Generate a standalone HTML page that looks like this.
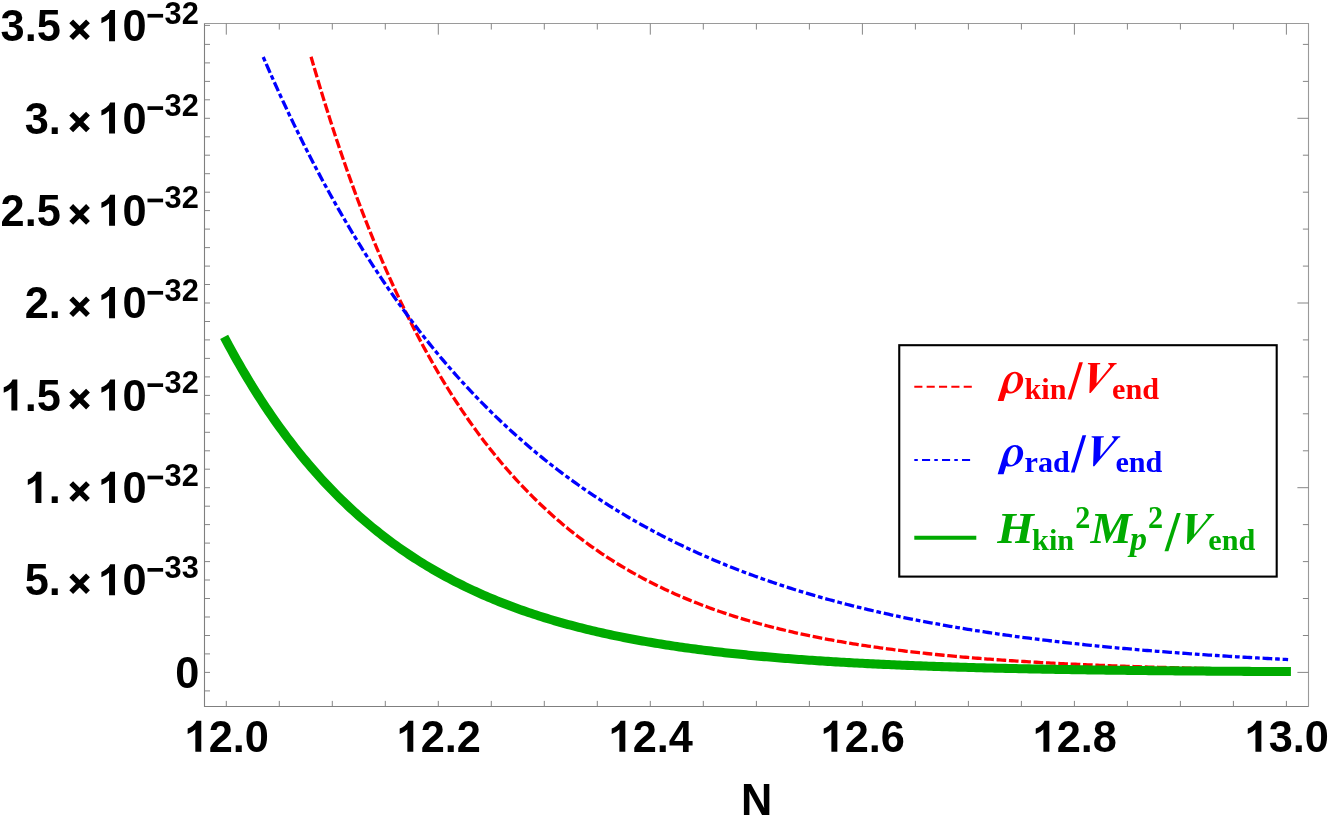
<!DOCTYPE html>
<html><head><meta charset="utf-8"><title>plot</title>
<style>
html,body{margin:0;padding:0;background:#fff;}
body{width:1329px;height:816px;overflow:hidden;font-family:"Liberation Sans",sans-serif;}
svg{display:block;}
.tl text{font-family:"Liberation Sans",sans-serif;font-weight:bold;fill:#000;}
.lg text{font-family:"Liberation Serif",serif;font-weight:bold;}
.it{font-style:italic;}
</style></head><body>
<svg style="will-change:transform" width="1329" height="816" viewBox="0 0 1329 816">
<rect width="1329" height="816" fill="#fff"/>
<g fill="none" stroke-linecap="butt" stroke-linejoin="round">
<path d="M311.05 56.76 L313.49 65.21 L315.94 73.54 L318.38 81.76 L320.82 89.87 L323.26 97.87 L325.70 105.75 L328.15 113.53 L330.59 121.20 L333.03 128.77 L335.47 136.23 L337.92 143.59 L340.36 150.85 L342.80 158.01 L345.24 165.07 L347.68 172.04 L350.13 178.90 L352.57 185.68 L355.01 192.36 L357.45 198.95 L359.89 205.45 L362.34 211.86 L364.78 218.18 L367.22 224.42 L369.66 230.56 L372.11 236.63 L374.55 242.61 L376.99 248.51 L379.43 254.33 L381.87 260.07 L384.32 265.73 L386.76 271.31 L389.20 276.82 L391.64 282.25 L394.08 287.60 L396.53 292.88 L398.97 298.09 L401.41 303.23 L403.85 308.30 L406.29 313.30 L408.74 318.23 L411.18 323.09 L413.62 327.88 L416.06 332.61 L418.51 337.28 L420.95 341.88 L423.39 346.41 L425.83 350.89 L428.27 355.30 L430.72 359.66 L433.16 363.95 L435.60 368.18 L438.04 372.36 L440.48 376.48 L442.93 380.54 L445.37 384.55 L447.81 388.50 L450.25 392.39 L452.70 396.24 L455.14 400.03 L457.58 403.77 L460.02 407.45 L462.46 411.09 L464.91 414.68 L467.35 418.22 L469.79 421.71 L472.23 425.15 L474.67 428.54 L477.12 431.89 L479.56 435.19 L482.00 438.45 L484.44 441.66 L486.88 444.82 L489.33 447.95 L491.77 451.03 L494.21 454.07 L496.65 457.07 L499.10 460.02 L501.54 462.94 L503.98 465.81 L506.42 468.65 L508.86 471.44 L511.31 474.20 L513.75 476.92 L516.19 479.61 L518.63 482.25 L521.07 484.86 L523.52 487.44 L525.96 489.98 L528.40 492.48 L530.84 494.95 L533.29 497.39 L535.73 499.79 L538.17 502.16 L540.61 504.50 L543.05 506.80 L545.50 509.07 L547.94 511.32 L550.38 513.53 L552.82 515.71 L555.26 517.86 L557.71 519.98 L560.15 522.07 L562.59 524.14 L565.03 526.17 L567.47 528.18 L569.92 530.16 L572.36 532.11 L574.80 534.04 L577.24 535.94 L579.69 537.81 L582.13 539.66 L584.57 541.48 L587.01 543.28 L589.45 545.05 L591.90 546.80 L594.34 548.52 L596.78 550.22 L599.22 551.90 L601.66 553.55 L604.11 555.18 L606.55 556.79 L608.99 558.38 L611.43 559.94 L613.88 561.49 L616.32 563.01 L618.76 564.51 L621.20 565.99 L623.64 567.45 L626.09 568.89 L628.53 570.32 L630.97 571.72 L633.41 573.10 L635.85 574.46 L638.30 575.81 L640.74 577.13 L643.18 578.44 L645.62 579.73 L648.06 581.00 L650.51 582.26 L652.95 583.49 L655.39 584.71 L657.83 585.92 L660.28 587.10 L662.72 588.28 L665.16 589.43 L667.60 590.57 L670.04 591.69 L672.49 592.80 L674.93 593.89 L677.37 594.97 L679.81 596.03 L682.25 597.08 L684.70 598.12 L687.14 599.14 L689.58 600.14 L692.02 601.13 L694.47 602.11 L696.91 603.08 L699.35 604.03 L701.79 604.97 L704.23 605.89 L706.68 606.81 L709.12 607.71 L711.56 608.59 L714.00 609.47 L716.44 610.33 L718.89 611.19 L721.33 612.03 L723.77 612.85 L726.21 613.67 L728.65 614.48 L731.10 615.27 L733.54 616.06 L735.98 616.83 L738.42 617.59 L740.87 618.35 L743.31 619.09 L745.75 619.82 L748.19 620.54 L750.63 621.25 L753.08 621.96 L755.52 622.65 L757.96 623.33 L760.40 624.00 L762.84 624.67 L765.29 625.32 L767.73 625.97 L770.17 626.61 L772.61 627.24 L775.06 627.86 L777.50 628.47 L779.94 629.07 L782.38 629.67 L784.82 630.25 L787.27 630.83 L789.71 631.40 L792.15 631.96 L794.59 632.52 L797.03 633.07 L799.48 633.61 L801.92 634.14 L804.36 634.66 L806.80 635.18 L809.24 635.69 L811.69 636.20 L814.13 636.69 L816.57 637.18 L819.01 637.67 L821.46 638.14 L823.90 638.61 L826.34 639.08 L828.78 639.54 L831.22 639.99 L833.67 640.43 L836.11 640.87 L838.55 641.30 L840.99 641.73 L843.43 642.15 L845.88 642.57 L848.32 642.98 L850.76 643.38 L853.20 643.78 L855.64 644.17 L858.09 644.56 L860.53 644.94 L862.97 645.32 L865.41 645.69 L867.86 646.06 L870.30 646.42 L872.74 646.77 L875.18 647.13 L877.62 647.47 L880.07 647.82 L882.51 648.15 L884.95 648.49 L887.39 648.81 L889.83 649.14 L892.28 649.46 L894.72 649.77 L897.16 650.08 L899.60 650.39 L902.05 650.69 L904.49 650.99 L906.93 651.28 L909.37 651.57 L911.81 651.86 L914.26 652.14 L916.70 652.42 L919.14 652.69 L921.58 652.96 L924.02 653.23 L926.47 653.49 L928.91 653.75 L931.35 654.01 L933.79 654.26 L936.23 654.51 L938.68 654.76 L941.12 655.00 L943.56 655.24 L946.00 655.47 L948.45 655.70 L950.89 655.93 L953.33 656.16 L955.77 656.38 L958.21 656.60 L960.66 656.82 L963.10 657.03 L965.54 657.24 L967.98 657.45 L970.42 657.66 L972.87 657.86 L975.31 658.06 L977.75 658.26 L980.19 658.45 L982.64 658.64 L985.08 658.83 L987.52 659.02 L989.96 659.20 L992.40 659.38 L994.85 659.56 L997.29 659.74 L999.73 659.91 L1002.17 660.08 L1004.61 660.25 L1007.06 660.42 L1009.50 660.58 L1011.94 660.74 L1014.38 660.90 L1016.82 661.06 L1019.27 661.22 L1021.71 661.37 L1024.15 661.52 L1026.59 661.67 L1029.04 661.82 L1031.48 661.96 L1033.92 662.11 L1036.36 662.25 L1038.80 662.39 L1041.25 662.53 L1043.69 662.66 L1046.13 662.80 L1048.57 662.93 L1051.01 663.06 L1053.46 663.19 L1055.90 663.31 L1058.34 663.44 L1060.78 663.56 L1063.23 663.68 L1065.67 663.80 L1068.11 663.92 L1070.55 664.04 L1072.99 664.15 L1075.44 664.26 L1077.88 664.38 L1080.32 664.49 L1082.76 664.59 L1085.20 664.70 L1087.65 664.81 L1090.09 664.91 L1092.53 665.01 L1094.97 665.12 L1097.41 665.22 L1099.86 665.31 L1102.30 665.41 L1104.74 665.51 L1107.18 665.60 L1109.63 665.69 L1112.07 665.79 L1114.51 665.88 L1116.95 665.97 L1119.39 666.06 L1121.84 666.14 L1124.28 666.23 L1126.72 666.31 L1129.16 666.40 L1131.60 666.48 L1134.05 666.56 L1136.49 666.64 L1138.93 666.72 L1141.37 666.80 L1143.82 666.87 L1146.26 666.95 L1148.70 667.03 L1151.14 667.10 L1153.58 667.17 L1156.03 667.24 L1158.47 667.31 L1160.91 667.38 L1163.35 667.45 L1165.79 667.52 L1168.24 667.59 L1170.68 667.65 L1173.12 667.72 L1175.56 667.78 L1178.00 667.85 L1180.45 667.91 L1182.89 667.97 L1185.33 668.03 L1187.77 668.09 L1190.22 668.15 L1192.66 668.21 L1195.10 668.27 L1197.54 668.32 L1199.98 668.38 L1202.43 668.43 L1204.87 668.49 L1207.31 668.54 L1209.75 668.60 L1212.19 668.65 L1214.64 668.70 L1217.08 668.75 L1219.52 668.80 L1221.96 668.85 L1224.41 668.90 L1226.85 668.95 L1229.29 668.99 L1231.73 669.04 L1234.17 669.09 L1236.62 669.13 L1239.06 669.18 L1241.50 669.22 L1243.94 669.26 L1246.38 669.31 L1248.83 669.35 L1251.27 669.39 L1253.71 669.43 L1256.15 669.47 L1258.59 669.51 L1261.04 669.55 L1263.48 669.59 L1265.92 669.63 L1268.36 669.67 L1270.81 669.71 L1273.25 669.74 L1275.69 669.78 L1278.13 669.82 L1280.57 669.85 L1283.02 669.89 L1285.46 669.92 L1287.90 669.96" stroke="#ff0000" stroke-width="3.3" stroke-dasharray="9.68 2.685" stroke-dashoffset="0.6"/>
<path d="M263.22 56.98 L265.78 62.90 L268.34 68.76 L270.90 74.57 L273.46 80.32 L276.03 86.02 L278.59 91.66 L281.15 97.25 L283.71 102.78 L286.28 108.26 L288.84 113.69 L291.40 119.07 L293.96 124.39 L296.52 129.66 L299.09 134.89 L301.65 140.06 L304.21 145.18 L306.77 150.25 L309.34 155.27 L311.90 160.25 L314.46 165.18 L317.02 170.06 L319.58 174.89 L322.15 179.68 L324.71 184.42 L327.27 189.11 L329.83 193.76 L332.40 198.37 L334.96 202.93 L337.52 207.45 L340.08 211.92 L342.64 216.35 L345.21 220.74 L347.77 225.08 L350.33 229.39 L352.89 233.65 L355.46 237.87 L358.02 242.05 L360.58 246.19 L363.14 250.29 L365.70 254.35 L368.27 258.38 L370.83 262.36 L373.39 266.30 L375.95 270.21 L378.52 274.08 L381.08 277.91 L383.64 281.71 L386.20 285.47 L388.76 289.19 L391.33 292.88 L393.89 296.53 L396.45 300.14 L399.01 303.73 L401.58 307.27 L404.14 310.79 L406.70 314.27 L409.26 317.71 L411.82 321.12 L414.39 324.50 L416.95 327.85 L419.51 331.17 L422.07 334.45 L424.64 337.70 L427.20 340.92 L429.76 344.11 L432.32 347.27 L434.88 350.40 L437.45 353.49 L440.01 356.56 L442.57 359.60 L445.13 362.61 L447.70 365.59 L450.26 368.54 L452.82 371.47 L455.38 374.36 L457.94 377.23 L460.51 380.07 L463.07 382.88 L465.63 385.67 L468.19 388.43 L470.75 391.16 L473.32 393.86 L475.88 396.54 L478.44 399.20 L481.00 401.83 L483.57 404.43 L486.13 407.01 L488.69 409.56 L491.25 412.09 L493.81 414.60 L496.38 417.08 L498.94 419.53 L501.50 421.96 L504.06 424.37 L506.63 426.76 L509.19 429.12 L511.75 431.46 L514.31 433.78 L516.87 436.08 L519.44 438.35 L522.00 440.60 L524.56 442.83 L527.12 445.04 L529.69 447.23 L532.25 449.40 L534.81 451.54 L537.37 453.67 L539.93 455.77 L542.50 457.86 L545.06 459.92 L547.62 461.96 L550.18 463.99 L552.75 465.99 L555.31 467.98 L557.87 469.95 L560.43 471.89 L562.99 473.82 L565.56 475.73 L568.12 477.63 L570.68 479.50 L573.24 481.36 L575.81 483.19 L578.37 485.02 L580.93 486.82 L583.49 488.60 L586.05 490.37 L588.62 492.12 L591.18 493.86 L593.74 495.58 L596.30 497.28 L598.87 498.96 L601.43 500.63 L603.99 502.28 L606.55 503.92 L609.11 505.54 L611.68 507.15 L614.24 508.74 L616.80 510.31 L619.36 511.87 L621.93 513.41 L624.49 514.94 L627.05 516.46 L629.61 517.96 L632.17 519.45 L634.74 520.92 L637.30 522.37 L639.86 523.82 L642.42 525.25 L644.99 526.66 L647.55 528.07 L650.11 529.45 L652.67 530.83 L655.23 532.19 L657.80 533.54 L660.36 534.88 L662.92 536.20 L665.48 537.51 L668.05 538.81 L670.61 540.09 L673.17 541.37 L675.73 542.63 L678.29 543.88 L680.86 545.11 L683.42 546.34 L685.98 547.55 L688.54 548.75 L691.11 549.94 L693.67 551.12 L696.23 552.29 L698.79 553.44 L701.35 554.59 L703.92 555.72 L706.48 556.84 L709.04 557.95 L711.60 559.05 L714.16 560.15 L716.73 561.23 L719.29 562.29 L721.85 563.35 L724.41 564.40 L726.98 565.44 L729.54 566.47 L732.10 567.49 L734.66 568.50 L737.22 569.50 L739.79 570.49 L742.35 571.47 L744.91 572.44 L747.47 573.40 L750.04 574.36 L752.60 575.30 L755.16 576.23 L757.72 577.16 L760.28 578.07 L762.85 578.98 L765.41 579.88 L767.97 580.77 L770.53 581.65 L773.10 582.53 L775.66 583.39 L778.22 584.25 L780.78 585.09 L783.34 585.93 L785.91 586.77 L788.47 587.59 L791.03 588.41 L793.59 589.21 L796.16 590.02 L798.72 590.81 L801.28 591.59 L803.84 592.37 L806.40 593.14 L808.97 593.90 L811.53 594.66 L814.09 595.41 L816.65 596.15 L819.22 596.88 L821.78 597.61 L824.34 598.33 L826.90 599.04 L829.46 599.75 L832.03 600.44 L834.59 601.14 L837.15 601.82 L839.71 602.50 L842.28 603.17 L844.84 603.84 L847.40 604.50 L849.96 605.15 L852.52 605.80 L855.09 606.44 L857.65 607.08 L860.21 607.70 L862.77 608.33 L865.34 608.94 L867.90 609.55 L870.46 610.16 L873.02 610.76 L875.58 611.35 L878.15 611.94 L880.71 612.52 L883.27 613.09 L885.83 613.67 L888.40 614.23 L890.96 614.79 L893.52 615.34 L896.08 615.89 L898.64 616.44 L901.21 616.98 L903.77 617.51 L906.33 618.04 L908.89 618.56 L911.46 619.08 L914.02 619.59 L916.58 620.10 L919.14 620.60 L921.70 621.10 L924.27 621.59 L926.83 622.08 L929.39 622.57 L931.95 623.05 L934.52 623.52 L937.08 623.99 L939.64 624.46 L942.20 624.92 L944.76 625.38 L947.33 625.83 L949.89 626.28 L952.45 626.72 L955.01 627.16 L957.57 627.59 L960.14 628.03 L962.70 628.45 L965.26 628.88 L967.82 629.29 L970.39 629.71 L972.95 630.12 L975.51 630.53 L978.07 630.93 L980.63 631.33 L983.20 631.72 L985.76 632.11 L988.32 632.50 L990.88 632.89 L993.45 633.27 L996.01 633.64 L998.57 634.02 L1001.13 634.39 L1003.69 634.75 L1006.26 635.11 L1008.82 635.47 L1011.38 635.83 L1013.94 636.18 L1016.51 636.53 L1019.07 636.87 L1021.63 637.21 L1024.19 637.55 L1026.75 637.89 L1029.32 638.22 L1031.88 638.55 L1034.44 638.87 L1037.00 639.20 L1039.57 639.52 L1042.13 639.83 L1044.69 640.15 L1047.25 640.46 L1049.81 640.76 L1052.38 641.07 L1054.94 641.37 L1057.50 641.67 L1060.06 641.96 L1062.63 642.26 L1065.19 642.55 L1067.75 642.83 L1070.31 643.12 L1072.87 643.40 L1075.44 643.68 L1078.00 643.96 L1080.56 644.23 L1083.12 644.50 L1085.69 644.77 L1088.25 645.03 L1090.81 645.30 L1093.37 645.56 L1095.93 645.82 L1098.50 646.07 L1101.06 646.33 L1103.62 646.58 L1106.18 646.83 L1108.75 647.07 L1111.31 647.32 L1113.87 647.56 L1116.43 647.80 L1118.99 648.03 L1121.56 648.27 L1124.12 648.50 L1126.68 648.73 L1129.24 648.96 L1131.81 649.18 L1134.37 649.41 L1136.93 649.63 L1139.49 649.85 L1142.05 650.06 L1144.62 650.28 L1147.18 650.49 L1149.74 650.70 L1152.30 650.91 L1154.87 651.12 L1157.43 651.32 L1159.99 651.52 L1162.55 651.73 L1165.11 651.92 L1167.68 652.12 L1170.24 652.32 L1172.80 652.51 L1175.36 652.70 L1177.93 652.89 L1180.49 653.08 L1183.05 653.26 L1185.61 653.45 L1188.17 653.63 L1190.74 653.81 L1193.30 653.99 L1195.86 654.17 L1198.42 654.34 L1200.98 654.52 L1203.55 654.69 L1206.11 654.86 L1208.67 655.03 L1211.23 655.19 L1213.80 655.36 L1216.36 655.52 L1218.92 655.69 L1221.48 655.85 L1224.04 656.01 L1226.61 656.16 L1229.17 656.32 L1231.73 656.48 L1234.29 656.63 L1236.86 656.78 L1239.42 656.93 L1241.98 657.08 L1244.54 657.23 L1247.10 657.37 L1249.67 657.52 L1252.23 657.66 L1254.79 657.80 L1257.35 657.94 L1259.92 658.08 L1262.48 658.22 L1265.04 658.36 L1267.60 658.49 L1270.16 658.62 L1272.73 658.76 L1275.29 658.89 L1277.85 659.02 L1280.41 659.15 L1282.98 659.28 L1285.54 659.40 L1288.10 659.53" stroke="#0000ff" stroke-width="3.3" stroke-dasharray="4.7 2.85 9.7 2.85" stroke-dashoffset="0"/>
<path d="M226.30 340.86 L228.95 345.80 L231.60 350.66 L234.25 355.45 L236.90 360.17 L239.55 364.82 L242.20 369.40 L244.85 373.91 L247.50 378.35 L250.15 382.73 L252.80 387.04 L255.45 391.29 L258.10 395.48 L260.75 399.60 L263.40 403.66 L266.05 407.66 L268.70 411.60 L271.35 415.49 L274.00 419.31 L276.65 423.08 L279.31 426.79 L281.96 430.45 L284.61 434.05 L287.26 437.60 L289.91 441.09 L292.56 444.54 L295.21 447.93 L297.86 451.27 L300.51 454.56 L303.16 457.81 L305.81 461.00 L308.46 464.15 L311.11 467.25 L313.76 470.30 L316.41 473.31 L319.06 476.28 L321.71 479.20 L324.36 482.07 L327.01 484.91 L329.66 487.70 L332.31 490.45 L334.96 493.16 L337.61 495.83 L340.26 498.46 L342.91 501.04 L345.56 503.60 L348.21 506.11 L350.86 508.58 L353.51 511.02 L356.16 513.43 L358.81 515.79 L361.46 518.12 L364.11 520.42 L366.76 522.68 L369.41 524.91 L372.06 527.11 L374.71 529.27 L377.36 531.40 L380.01 533.50 L382.66 535.57 L385.32 537.61 L387.97 539.61 L390.62 541.59 L393.27 543.54 L395.92 545.46 L398.57 547.35 L401.22 549.21 L403.87 551.04 L406.52 552.85 L409.17 554.63 L411.82 556.38 L414.47 558.11 L417.12 559.81 L419.77 561.49 L422.42 563.14 L425.07 564.77 L427.72 566.37 L430.37 567.95 L433.02 569.50 L435.67 571.03 L438.32 572.54 L440.97 574.03 L443.62 575.49 L446.27 576.94 L448.92 578.36 L451.57 579.76 L454.22 581.14 L456.87 582.50 L459.52 583.83 L462.17 585.15 L464.82 586.45 L467.47 587.73 L470.12 588.99 L472.77 590.23 L475.42 591.46 L478.07 592.66 L480.72 593.85 L483.37 595.02 L486.02 596.17 L488.67 597.31 L491.33 598.42 L493.98 599.53 L496.63 600.61 L499.28 601.68 L501.93 602.73 L504.58 603.77 L507.23 604.79 L509.88 605.80 L512.53 606.79 L515.18 607.77 L517.83 608.73 L520.48 609.68 L523.13 610.61 L525.78 611.53 L528.43 612.44 L531.08 613.33 L533.73 614.21 L536.38 615.07 L539.03 615.93 L541.68 616.77 L544.33 617.60 L546.98 618.41 L549.63 619.22 L552.28 620.01 L554.93 620.79 L557.58 621.56 L560.23 622.31 L562.88 623.06 L565.53 623.79 L568.18 624.52 L570.83 625.23 L573.48 625.93 L576.13 626.63 L578.78 627.31 L581.43 627.98 L584.08 628.64 L586.73 629.29 L589.38 629.93 L592.03 630.56 L594.68 631.19 L597.33 631.80 L599.99 632.41 L602.64 633.00 L605.29 633.59 L607.94 634.17 L610.59 634.73 L613.24 635.30 L615.89 635.85 L618.54 636.39 L621.19 636.93 L623.84 637.46 L626.49 637.98 L629.14 638.49 L631.79 638.99 L634.44 639.49 L637.09 639.98 L639.74 640.46 L642.39 640.94 L645.04 641.41 L647.69 641.87 L650.34 642.32 L652.99 642.77 L655.64 643.21 L658.29 643.65 L660.94 644.08 L663.59 644.50 L666.24 644.91 L668.89 645.32 L671.54 645.72 L674.19 646.12 L676.84 646.51 L679.49 646.90 L682.14 647.28 L684.79 647.65 L687.44 648.02 L690.09 648.38 L692.74 648.74 L695.39 649.09 L698.04 649.44 L700.69 649.78 L703.34 650.12 L706.00 650.45 L708.65 650.78 L711.30 651.10 L713.95 651.42 L716.60 651.73 L719.25 652.04 L721.90 652.34 L724.55 652.64 L727.20 652.93 L729.85 653.22 L732.50 653.51 L735.15 653.79 L737.80 654.07 L740.45 654.34 L743.10 654.61 L745.75 654.87 L748.40 655.13 L751.05 655.39 L753.70 655.64 L756.35 655.89 L759.00 656.14 L761.65 656.38 L764.30 656.62 L766.95 656.86 L769.60 657.09 L772.25 657.31 L774.90 657.54 L777.55 657.76 L780.20 657.98 L782.85 658.19 L785.50 658.40 L788.15 658.61 L790.80 658.82 L793.45 659.02 L796.10 659.22 L798.75 659.42 L801.40 659.61 L804.05 659.80 L806.70 659.99 L809.36 660.17 L812.01 660.35 L814.66 660.53 L817.31 660.71 L819.96 660.88 L822.61 661.06 L825.26 661.22 L827.91 661.39 L830.56 661.55 L833.21 661.72 L835.86 661.88 L838.51 662.03 L841.16 662.19 L843.81 662.34 L846.46 662.49 L849.11 662.64 L851.76 662.78 L854.41 662.92 L857.06 663.07 L859.71 663.20 L862.36 663.34 L865.01 663.48 L867.66 663.61 L870.31 663.74 L872.96 663.87 L875.61 664.00 L878.26 664.12 L880.91 664.24 L883.56 664.37 L886.21 664.49 L888.86 664.60 L891.51 664.72 L894.16 664.83 L896.81 664.95 L899.46 665.06 L902.11 665.17 L904.76 665.27 L907.41 665.38 L910.06 665.48 L912.71 665.59 L915.37 665.69 L918.02 665.79 L920.67 665.89 L923.32 665.98 L925.97 666.08 L928.62 666.17 L931.27 666.27 L933.92 666.36 L936.57 666.45 L939.22 666.54 L941.87 666.62 L944.52 666.71 L947.17 666.79 L949.82 666.88 L952.47 666.96 L955.12 667.04 L957.77 667.12 L960.42 667.20 L963.07 667.28 L965.72 667.35 L968.37 667.43 L971.02 667.50 L973.67 667.58 L976.32 667.65 L978.97 667.72 L981.62 667.79 L984.27 667.86 L986.92 667.92 L989.57 667.99 L992.22 668.06 L994.87 668.12 L997.52 668.18 L1000.17 668.25 L1002.82 668.31 L1005.47 668.37 L1008.12 668.43 L1010.77 668.49 L1013.42 668.55 L1016.07 668.60 L1018.72 668.66 L1021.38 668.72 L1024.03 668.77 L1026.68 668.83 L1029.33 668.88 L1031.98 668.93 L1034.63 668.98 L1037.28 669.03 L1039.93 669.08 L1042.58 669.13 L1045.23 669.18 L1047.88 669.23 L1050.53 669.28 L1053.18 669.32 L1055.83 669.37 L1058.48 669.41 L1061.13 669.46 L1063.78 669.50 L1066.43 669.55 L1069.08 669.59 L1071.73 669.63 L1074.38 669.67 L1077.03 669.71 L1079.68 669.75 L1082.33 669.79 L1084.98 669.83 L1087.63 669.87 L1090.28 669.91 L1092.93 669.94 L1095.58 669.98 L1098.23 670.02 L1100.88 670.05 L1103.53 670.09 L1106.18 670.12 L1108.83 670.15 L1111.48 670.19 L1114.13 670.22 L1116.78 670.25 L1119.43 670.29 L1122.08 670.32 L1124.73 670.35 L1127.38 670.38 L1130.04 670.41 L1132.69 670.44 L1135.34 670.47 L1137.99 670.50 L1140.64 670.52 L1143.29 670.55 L1145.94 670.58 L1148.59 670.61 L1151.24 670.63 L1153.89 670.66 L1156.54 670.69 L1159.19 670.71 L1161.84 670.74 L1164.49 670.76 L1167.14 670.79 L1169.79 670.81 L1172.44 670.83 L1175.09 670.86 L1177.74 670.88 L1180.39 670.90 L1183.04 670.92 L1185.69 670.95 L1188.34 670.97 L1190.99 670.99 L1193.64 671.01 L1196.29 671.03 L1198.94 671.05 L1201.59 671.07 L1204.24 671.09 L1206.89 671.11 L1209.54 671.13 L1212.19 671.15 L1214.84 671.17 L1217.49 671.19 L1220.14 671.20 L1222.79 671.22 L1225.44 671.24 L1228.09 671.26 L1230.74 671.27 L1233.39 671.29 L1236.05 671.31 L1238.70 671.32 L1241.35 671.34 L1244.00 671.36 L1246.65 671.37 L1249.30 671.39 L1251.95 671.40 L1254.60 671.42 L1257.25 671.43 L1259.90 671.45 L1262.55 671.46 L1265.20 671.47 L1267.85 671.49 L1270.50 671.50 L1273.15 671.51 L1275.80 671.53 L1278.45 671.54 L1281.10 671.55 L1283.75 671.57 L1286.40 671.58" stroke="#00aa00" stroke-width="9.05" stroke-linecap="square"/>
</g>
<g stroke="#7f7f7f" stroke-width="1.1" fill="none">
<line x1="204.5" y1="23.05" x2="204.5" y2="707.0" stroke="#7f7f7f"/><line x1="204.0" y1="706.5" x2="1309.0" y2="706.5" stroke="#7f7f7f"/><line x1="204.0" y1="23.55" x2="1309.0" y2="23.55" stroke="#9a9a9a"/><line x1="1308.5" y1="23.05" x2="1308.5" y2="707.0" stroke="#9a9a9a"/>
</g>
<g stroke="#7f7f7f" stroke-width="0.95" fill="none">
<line x1="226.3" y1="706.5" x2="226.3" y2="700.9"/>
<line x1="226.3" y1="23.55" x2="226.3" y2="34.65"/>
<line x1="279.3" y1="706.5" x2="279.3" y2="700.9"/>
<line x1="279.3" y1="23.55" x2="279.3" y2="29.55"/>
<line x1="332.3" y1="706.5" x2="332.3" y2="700.9"/>
<line x1="332.3" y1="23.55" x2="332.3" y2="29.55"/>
<line x1="385.3" y1="706.5" x2="385.3" y2="700.9"/>
<line x1="385.3" y1="23.55" x2="385.3" y2="29.55"/>
<line x1="438.3" y1="706.5" x2="438.3" y2="700.9"/>
<line x1="438.3" y1="23.55" x2="438.3" y2="34.65"/>
<line x1="491.3" y1="706.5" x2="491.3" y2="700.9"/>
<line x1="491.3" y1="23.55" x2="491.3" y2="29.55"/>
<line x1="544.3" y1="706.5" x2="544.3" y2="700.9"/>
<line x1="544.3" y1="23.55" x2="544.3" y2="29.55"/>
<line x1="597.3" y1="706.5" x2="597.3" y2="700.9"/>
<line x1="597.3" y1="23.55" x2="597.3" y2="29.55"/>
<line x1="650.3" y1="706.5" x2="650.3" y2="700.9"/>
<line x1="650.3" y1="23.55" x2="650.3" y2="34.65"/>
<line x1="703.3" y1="706.5" x2="703.3" y2="700.9"/>
<line x1="703.3" y1="23.55" x2="703.3" y2="29.55"/>
<line x1="756.4" y1="706.5" x2="756.4" y2="700.9"/>
<line x1="756.4" y1="23.55" x2="756.4" y2="29.55"/>
<line x1="809.4" y1="706.5" x2="809.4" y2="700.9"/>
<line x1="809.4" y1="23.55" x2="809.4" y2="29.55"/>
<line x1="862.4" y1="706.5" x2="862.4" y2="700.9"/>
<line x1="862.4" y1="23.55" x2="862.4" y2="34.65"/>
<line x1="915.4" y1="706.5" x2="915.4" y2="700.9"/>
<line x1="915.4" y1="23.55" x2="915.4" y2="29.55"/>
<line x1="968.4" y1="706.5" x2="968.4" y2="700.9"/>
<line x1="968.4" y1="23.55" x2="968.4" y2="29.55"/>
<line x1="1021.4" y1="706.5" x2="1021.4" y2="700.9"/>
<line x1="1021.4" y1="23.55" x2="1021.4" y2="29.55"/>
<line x1="1074.4" y1="706.5" x2="1074.4" y2="700.9"/>
<line x1="1074.4" y1="23.55" x2="1074.4" y2="34.65"/>
<line x1="1127.4" y1="706.5" x2="1127.4" y2="700.9"/>
<line x1="1127.4" y1="23.55" x2="1127.4" y2="29.55"/>
<line x1="1180.4" y1="706.5" x2="1180.4" y2="700.9"/>
<line x1="1180.4" y1="23.55" x2="1180.4" y2="29.55"/>
<line x1="1233.4" y1="706.5" x2="1233.4" y2="700.9"/>
<line x1="1233.4" y1="23.55" x2="1233.4" y2="29.55"/>
<line x1="1286.4" y1="706.5" x2="1286.4" y2="700.9"/>
<line x1="1286.4" y1="23.55" x2="1286.4" y2="34.65"/>
<line x1="204.5" y1="690.9" x2="210.0" y2="690.9"/>
<line x1="204.5" y1="672.4" x2="210.0" y2="672.4"/>
<line x1="1308.5" y1="672.4" x2="1297.4" y2="672.4"/>
<line x1="204.5" y1="653.9" x2="210.0" y2="653.9"/>
<line x1="204.5" y1="635.5" x2="210.0" y2="635.5"/>
<line x1="1308.5" y1="635.5" x2="1302.9" y2="635.5"/>
<line x1="204.5" y1="617.0" x2="210.0" y2="617.0"/>
<line x1="204.5" y1="598.5" x2="210.0" y2="598.5"/>
<line x1="1308.5" y1="598.5" x2="1302.9" y2="598.5"/>
<line x1="204.5" y1="580.0" x2="210.0" y2="580.0"/>
<line x1="204.5" y1="561.6" x2="210.0" y2="561.6"/>
<line x1="1308.5" y1="561.6" x2="1302.9" y2="561.6"/>
<line x1="204.5" y1="543.1" x2="210.0" y2="543.1"/>
<line x1="204.5" y1="524.6" x2="210.0" y2="524.6"/>
<line x1="1308.5" y1="524.6" x2="1302.9" y2="524.6"/>
<line x1="204.5" y1="506.2" x2="210.0" y2="506.2"/>
<line x1="204.5" y1="487.7" x2="210.0" y2="487.7"/>
<line x1="1308.5" y1="487.7" x2="1297.4" y2="487.7"/>
<line x1="204.5" y1="469.2" x2="210.0" y2="469.2"/>
<line x1="204.5" y1="450.8" x2="210.0" y2="450.8"/>
<line x1="1308.5" y1="450.8" x2="1302.9" y2="450.8"/>
<line x1="204.5" y1="432.3" x2="210.0" y2="432.3"/>
<line x1="204.5" y1="413.8" x2="210.0" y2="413.8"/>
<line x1="1308.5" y1="413.8" x2="1302.9" y2="413.8"/>
<line x1="204.5" y1="395.4" x2="210.0" y2="395.4"/>
<line x1="204.5" y1="376.9" x2="210.0" y2="376.9"/>
<line x1="1308.5" y1="376.9" x2="1302.9" y2="376.9"/>
<line x1="204.5" y1="358.4" x2="210.0" y2="358.4"/>
<line x1="204.5" y1="339.9" x2="210.0" y2="339.9"/>
<line x1="1308.5" y1="339.9" x2="1302.9" y2="339.9"/>
<line x1="204.5" y1="321.5" x2="210.0" y2="321.5"/>
<line x1="204.5" y1="303.0" x2="210.0" y2="303.0"/>
<line x1="1308.5" y1="303.0" x2="1297.4" y2="303.0"/>
<line x1="204.5" y1="284.5" x2="210.0" y2="284.5"/>
<line x1="204.5" y1="266.1" x2="210.0" y2="266.1"/>
<line x1="1308.5" y1="266.1" x2="1302.9" y2="266.1"/>
<line x1="204.5" y1="247.6" x2="210.0" y2="247.6"/>
<line x1="204.5" y1="229.1" x2="210.0" y2="229.1"/>
<line x1="1308.5" y1="229.1" x2="1302.9" y2="229.1"/>
<line x1="204.5" y1="210.6" x2="210.0" y2="210.6"/>
<line x1="204.5" y1="192.2" x2="210.0" y2="192.2"/>
<line x1="1308.5" y1="192.2" x2="1302.9" y2="192.2"/>
<line x1="204.5" y1="173.7" x2="210.0" y2="173.7"/>
<line x1="204.5" y1="155.2" x2="210.0" y2="155.2"/>
<line x1="1308.5" y1="155.2" x2="1302.9" y2="155.2"/>
<line x1="204.5" y1="136.8" x2="210.0" y2="136.8"/>
<line x1="204.5" y1="118.3" x2="210.0" y2="118.3"/>
<line x1="1308.5" y1="118.3" x2="1297.4" y2="118.3"/>
<line x1="204.5" y1="99.8" x2="210.0" y2="99.8"/>
<line x1="204.5" y1="81.4" x2="210.0" y2="81.4"/>
<line x1="1308.5" y1="81.4" x2="1302.9" y2="81.4"/>
<line x1="204.5" y1="62.9" x2="210.0" y2="62.9"/>
<line x1="204.5" y1="44.4" x2="210.0" y2="44.4"/>
<line x1="1308.5" y1="44.4" x2="1302.9" y2="44.4"/>
<line x1="204.5" y1="25.4" x2="210.0" y2="25.4"/>
</g>
<g class="tl">
<path transform="translate(184.26 751.80) scale(0.02114 -0.02114)" d="M805 0H524V1059Q370 915 161 846V1101Q271 1137 400 1237.5T577 1472H805Z" fill="#000"/><text transform="translate(208.64 751.80) scale(1.0 1.04)" font-size="43.3">2.0</text>
<path transform="translate(396.28 751.80) scale(0.02114 -0.02114)" d="M805 0H524V1059Q370 915 161 846V1101Q271 1137 400 1237.5T577 1472H805Z" fill="#000"/><text transform="translate(420.66 751.80) scale(1.0 1.04)" font-size="43.3">2.2</text>
<path transform="translate(608.30 751.80) scale(0.02114 -0.02114)" d="M805 0H524V1059Q370 915 161 846V1101Q271 1137 400 1237.5T577 1472H805Z" fill="#000"/><text transform="translate(632.68 751.80) scale(1.0 1.04)" font-size="43.3">2.4</text>
<path transform="translate(820.32 751.80) scale(0.02114 -0.02114)" d="M805 0H524V1059Q370 915 161 846V1101Q271 1137 400 1237.5T577 1472H805Z" fill="#000"/><text transform="translate(844.70 751.80) scale(1.0 1.04)" font-size="43.3">2.6</text>
<path transform="translate(1032.34 751.80) scale(0.02114 -0.02114)" d="M805 0H524V1059Q370 915 161 846V1101Q271 1137 400 1237.5T577 1472H805Z" fill="#000"/><text transform="translate(1056.72 751.80) scale(1.0 1.04)" font-size="43.3">2.8</text>
<path transform="translate(1244.36 751.80) scale(0.02114 -0.02114)" d="M805 0H524V1059Q370 915 161 846V1101Q271 1137 400 1237.5T577 1472H805Z" fill="#000"/><text transform="translate(1268.74 751.80) scale(1.0 1.04)" font-size="43.3">3.0</text>
<text transform="translate(175.32 687.60) scale(1.0 1.04)" font-size="43.3">0</text>
<text transform="translate(24.69 595.25) scale(1.0 1.04)" font-size="43.3">5.</text>
<path d="M71.20 575.40L88.00 592.20M71.20 592.20L88.00 575.40" stroke="#000" stroke-width="5.4" fill="none"/>
<path transform="translate(98.00 595.25) scale(0.02114 -0.02114)" d="M805 0H524V1059Q370 915 161 846V1101Q271 1137 400 1237.5T577 1472H805Z" fill="#000"/><text transform="translate(122.38 595.25) scale(1.0 1.04)" font-size="43.3">0</text>
<rect x="147.5" y="568.00" width="15.6" height="3.7" fill="#000"/>
<text transform="translate(164.60 577.85) scale(1 1.04)" font-size="30.74">33</text>
<path transform="translate(24.39 502.90) scale(0.02114 -0.02114)" d="M805 0H524V1059Q370 915 161 846V1101Q271 1137 400 1237.5T577 1472H805Z" fill="#000"/><text transform="translate(48.77 502.90) scale(1.0 1.04)" font-size="43.3">.</text>
<path d="M71.20 483.05L88.00 499.85M71.20 499.85L88.00 483.05" stroke="#000" stroke-width="5.4" fill="none"/>
<path transform="translate(98.00 502.90) scale(0.02114 -0.02114)" d="M805 0H524V1059Q370 915 161 846V1101Q271 1137 400 1237.5T577 1472H805Z" fill="#000"/><text transform="translate(122.38 502.90) scale(1.0 1.04)" font-size="43.3">0</text>
<rect x="147.5" y="475.65" width="15.6" height="3.7" fill="#000"/>
<text transform="translate(164.60 485.50) scale(1 1.04)" font-size="30.74">32</text>
<path transform="translate(0.31 410.55) scale(0.02114 -0.02114)" d="M805 0H524V1059Q370 915 161 846V1101Q271 1137 400 1237.5T577 1472H805Z" fill="#000"/><text transform="translate(24.69 410.55) scale(1.0 1.04)" font-size="43.3">.5</text>
<path d="M71.20 390.70L88.00 407.50M71.20 407.50L88.00 390.70" stroke="#000" stroke-width="5.4" fill="none"/>
<path transform="translate(98.00 410.55) scale(0.02114 -0.02114)" d="M805 0H524V1059Q370 915 161 846V1101Q271 1137 400 1237.5T577 1472H805Z" fill="#000"/><text transform="translate(122.38 410.55) scale(1.0 1.04)" font-size="43.3">0</text>
<rect x="147.5" y="383.30" width="15.6" height="3.7" fill="#000"/>
<text transform="translate(164.60 393.15) scale(1 1.04)" font-size="30.74">32</text>
<text transform="translate(24.69 318.20) scale(1.0 1.04)" font-size="43.3">2.</text>
<path d="M71.20 298.35L88.00 315.15M71.20 315.15L88.00 298.35" stroke="#000" stroke-width="5.4" fill="none"/>
<path transform="translate(98.00 318.20) scale(0.02114 -0.02114)" d="M805 0H524V1059Q370 915 161 846V1101Q271 1137 400 1237.5T577 1472H805Z" fill="#000"/><text transform="translate(122.38 318.20) scale(1.0 1.04)" font-size="43.3">0</text>
<rect x="147.5" y="290.95" width="15.6" height="3.7" fill="#000"/>
<text transform="translate(164.60 300.80) scale(1 1.04)" font-size="30.74">32</text>
<text transform="translate(0.61 225.85) scale(1.0 1.04)" font-size="43.3">2.5</text>
<path d="M71.20 206.00L88.00 222.80M71.20 222.80L88.00 206.00" stroke="#000" stroke-width="5.4" fill="none"/>
<path transform="translate(98.00 225.85) scale(0.02114 -0.02114)" d="M805 0H524V1059Q370 915 161 846V1101Q271 1137 400 1237.5T577 1472H805Z" fill="#000"/><text transform="translate(122.38 225.85) scale(1.0 1.04)" font-size="43.3">0</text>
<rect x="147.5" y="198.60" width="15.6" height="3.7" fill="#000"/>
<text transform="translate(164.60 208.45) scale(1 1.04)" font-size="30.74">32</text>
<text transform="translate(24.69 133.50) scale(1.0 1.04)" font-size="43.3">3.</text>
<path d="M71.20 113.65L88.00 130.45M71.20 130.45L88.00 113.65" stroke="#000" stroke-width="5.4" fill="none"/>
<path transform="translate(98.00 133.50) scale(0.02114 -0.02114)" d="M805 0H524V1059Q370 915 161 846V1101Q271 1137 400 1237.5T577 1472H805Z" fill="#000"/><text transform="translate(122.38 133.50) scale(1.0 1.04)" font-size="43.3">0</text>
<rect x="147.5" y="106.25" width="15.6" height="3.7" fill="#000"/>
<text transform="translate(164.60 116.10) scale(1 1.04)" font-size="30.74">32</text>
<text transform="translate(0.61 41.15) scale(1.0 1.04)" font-size="43.3">3.5</text>
<path d="M71.20 21.30L88.00 38.10M71.20 38.10L88.00 21.30" stroke="#000" stroke-width="5.4" fill="none"/>
<path transform="translate(98.00 41.15) scale(0.02114 -0.02114)" d="M805 0H524V1059Q370 915 161 846V1101Q271 1137 400 1237.5T577 1472H805Z" fill="#000"/><text transform="translate(122.38 41.15) scale(1.0 1.04)" font-size="43.3">0</text>
<rect x="147.5" y="13.90" width="15.6" height="3.7" fill="#000"/>
<text transform="translate(164.60 23.75) scale(1 1.04)" font-size="30.74">32</text>
<text transform="translate(756.50 814.50) scale(1 1.04)" font-size="43.3" text-anchor="middle">N</text>
</g>
<rect x="899.25" y="345.2" width="377.45" height="231.4" fill="#fff" stroke="#000" stroke-width="2.1"/>
<line x1="914.3" y1="386.8" x2="972" y2="386.8" stroke="#ff0000" stroke-width="1.9" stroke-dasharray="8.1 4.25"/>
<line x1="914.3" y1="460.0" x2="970.4" y2="460.0" stroke="#0000ff" stroke-width="1.9" stroke-dasharray="3.5 4.2 8.1 4.2"/>
<line x1="914.3" y1="537.8" x2="976.3" y2="537.8" stroke="#00aa00" stroke-width="4.1"/>
<g class="lg" fill="#ff0000">
<path transform="translate(992.00 393.10)" d="M5.66 7.98L11.59 7.98L14.12 -0.27C16.17 0.70 18.33 0.43 20.49 0.05C25.88 -1.19 31.00 -6.85 31.16 -13.05C31.27 -17.63 28.03 -21.13 22.91 -21.24C17.79 -21.24 13.48 -17.09 11.59 -11.16ZM22.64 -19.51C19.41 -19.51 16.71 -13.85 15.74 -7.92C15.09 -4.15 16.17 -1.29 19.14 -1.29C22.64 -1.29 25.61 -7.39 25.77 -13.32C25.88 -17.36 24.80 -19.51 22.64 -19.51Z" fill="#ff0000" fill-rule="evenodd"/>
<text transform="translate(1024.50 398.60) scale(1.0 1.0)" font-size="30.2">kin</text>
<path d="M1067.60 399.60L1071.30 399.60L1082.90 362.20L1079.20 362.20Z" fill="#ff0000"/>
<path transform="translate(1087.92 393.05)" d="M0.00 -30.00L12.25 -30.00L12.25 -28.92L9.31 -28.43L8.58 -9.56L22.06 -25.98C22.79 -27.70 21.57 -28.77 20.34 -28.92L20.34 -30.00L28.68 -30.00L28.68 -28.92L26.96 -28.43L2.70 0.00L1.47 0.00L2.45 -28.19L0.98 -28.77L0.00 -28.92Z" fill="#ff0000"/>
<text transform="translate(1112.00 398.60) scale(1.0 1.0)" font-size="30.2">end</text>
</g>
<g class="lg" fill="#0000ff">
<path transform="translate(992.00 466.20)" d="M5.66 7.98L11.59 7.98L14.12 -0.27C16.17 0.70 18.33 0.43 20.49 0.05C25.88 -1.19 31.00 -6.85 31.16 -13.05C31.27 -17.63 28.03 -21.13 22.91 -21.24C17.79 -21.24 13.48 -17.09 11.59 -11.16ZM22.64 -19.51C19.41 -19.51 16.71 -13.85 15.74 -7.92C15.09 -4.15 16.17 -1.29 19.14 -1.29C22.64 -1.29 25.61 -7.39 25.77 -13.32C25.88 -17.36 24.80 -19.51 22.64 -19.51Z" fill="#0000ff" fill-rule="evenodd"/>
<text transform="translate(1024.50 471.60) scale(1.0 1.0)" font-size="30.2">rad</text>
<path d="M1070.90 472.60L1074.60 472.60L1086.20 435.20L1082.50 435.20Z" fill="#0000ff"/>
<path transform="translate(1091.60 466.15)" d="M0.00 -30.00L12.25 -30.00L12.25 -28.92L9.31 -28.43L8.58 -9.56L22.06 -25.98C22.79 -27.70 21.57 -28.77 20.34 -28.92L20.34 -30.00L28.68 -30.00L28.68 -28.92L26.96 -28.43L2.70 0.00L1.47 0.00L2.45 -28.19L0.98 -28.77L0.00 -28.92Z" fill="#0000ff"/>
<text transform="translate(1115.40 471.60) scale(1.0 1.0)" font-size="30.2">end</text>
</g>
<g class="lg" fill="#00aa00">
<text transform="translate(997.30 543.40) scale(1.06 1)" font-size="44.4" class="it">H</text>
<text transform="translate(1032.10 549.70) scale(1.0 1.0)" font-size="30.2">kin</text>
<text transform="translate(1075.30 527.60) scale(1 1.07)" font-size="30.2">2</text>
<text transform="translate(1090.60 543.40) scale(1.045 1)" font-size="44.4" class="it">M</text>
<text transform="translate(1130.00 549.70) scale(1 1)" font-size="34" class="it">p</text>
<text transform="translate(1148.10 527.60) scale(1 1.07)" font-size="30.2">2</text>
<path d="M1164.50 551.20L1168.40 551.20L1180.70 513.00L1176.80 513.00Z" fill="#00aa00"/>
<path transform="translate(1185.50 544.00)" d="M0.00 -30.00L12.25 -30.00L12.25 -28.92L9.31 -28.43L8.58 -9.56L22.06 -25.98C22.79 -27.70 21.57 -28.77 20.34 -28.92L20.34 -30.00L28.68 -30.00L28.68 -28.92L26.96 -28.43L2.70 0.00L1.47 0.00L2.45 -28.19L0.98 -28.77L0.00 -28.92Z" fill="#00aa00"/>
<text transform="translate(1208.30 549.70) scale(1.0 1.0)" font-size="30.2">end</text>
</g>
</svg>
</body></html>
